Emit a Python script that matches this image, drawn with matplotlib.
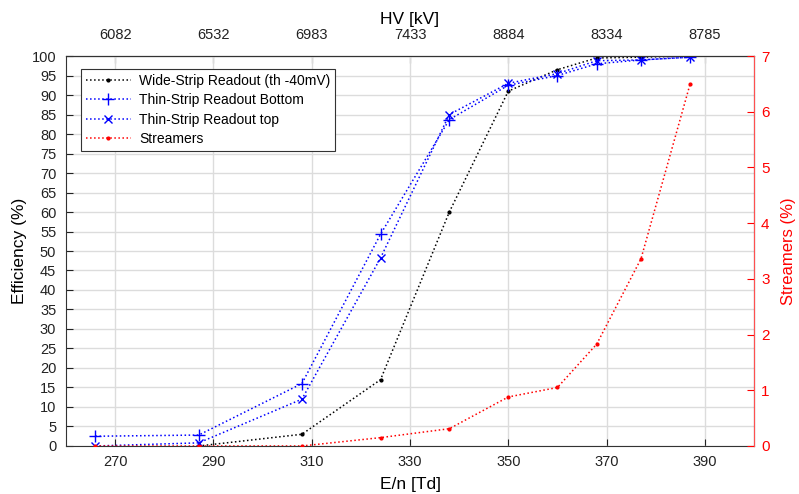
import matplotlib
matplotlib.use("Agg")
import matplotlib.pyplot as plt

plt.rcParams['font.family'] = ['Liberation Sans', 'DejaVu Sans']

# Reduced field E/n [Td]
en = [266, 287, 308, 324, 338, 350, 360, 368, 377, 387]
en_wide = [287, 308, 324, 338, 350, 360, 368, 377, 387]

# Efficiencies (%)
eff_wide = [0.0, 3.0, 17.0, 60.0, 91.0, 96.5, 99.5, 99.7, 100.0]
eff_bottom = [2.5, 2.8, 16.0, 54.3, 83.7, 92.5, 95.0, 98.0, 99.0, 99.7]
eff_top = [0.0, 0.8, 12.0, 48.2, 85.0, 93.0, 95.5, 98.8, 99.0, 99.7]

# Streamer fraction (%)
streamers = [0.0, 0.0, 0.0, 0.15, 0.31, 0.88, 1.05, 1.83, 3.36, 6.50]

# Axis ticks
en_ticks = [270, 290, 310, 330, 350, 370, 390]
hv_labels = ["6082", "6532", "6983", "7433", "8884", "8334", "8785"]

fig = plt.figure(figsize=(7.99, 4.94), dpi=100)
ax = fig.add_axes([0.0826, 0.0972, 0.8611, 0.7894])

ax.plot(en_wide, eff_wide, ls=':', color='black', marker='.', ms=4, lw=1.1,
        label='Wide-Strip Readout (th -40mV)')
ax.plot(en, eff_bottom, ls=':', color='blue', marker='+', ms=8, mew=1.0, lw=1.1,
        label='Thin-Strip Readout Bottom')
ax.plot(en, eff_top, ls=':', color='blue', marker='x', ms=6, mew=1.0, lw=1.1,
        label='Thin-Strip Readout top')
# legend proxy for the streamer series (drawn on the right axis)
ax.plot([], [], ls=':', color='red', marker='.', ms=4, lw=1.1, label='Streamers')

ax.set_xlim(260, 400)
ax.set_ylim(0, 100)
ax.set_xticks(en_ticks)
ax.set_yticks(range(0, 101, 5))
ax.grid(True, color='#dcdcdc', lw=1.0)
ax.set_axisbelow(True)
ax.tick_params(direction='in', length=5, labelsize=10.5, colors='#222222')
ax.tick_params(axis='y', pad=7)
ax.tick_params(axis='x', pad=6.5)
ax.set_xlabel('E/n [Td]', fontsize=12.5, labelpad=6)
ax.set_ylabel('Efficiency (%)', fontsize=12.5, labelpad=3)
for s in ['left', 'bottom', 'top']:
    ax.spines[s].set_color('#333333')

ax2 = ax.twinx()
ax2.plot(en, streamers, ls=':', color='red', marker='.', ms=4, lw=1.1)
ax2.set_ylim(0, 7)
ax2.set_yticks(range(0, 8))
ax2.tick_params(axis='y', direction='in', length=5, labelsize=11, colors='red', pad=5)
ax2.spines['right'].set_color('#ff5050')
ax2.spines['left'].set_visible(False)
ax2.spines['top'].set_visible(False)
ax2.spines['bottom'].set_visible(False)
ax2.set_ylabel('Streamers (%)', color='red', fontsize=12, labelpad=8)

top = ax.secondary_xaxis('top')
top.set_xticks(en_ticks)
top.set_xticklabels(hv_labels)
top.tick_params(direction='in', length=5, labelsize=10.5, colors='#222222', pad=10)
top.set_xlabel('HV [kV]', fontsize=12.5, labelpad=3)

leg = ax.legend(loc='upper left', bbox_to_anchor=(0.012, 0.985), fontsize=10,
                frameon=True, fancybox=False, edgecolor='#333333', framealpha=1,
                handlelength=3.2, borderpad=0.35, labelspacing=0.4, handletextpad=0.6)
leg.get_frame().set_linewidth(0.8)

fig.savefig('out.png', dpi=100)
